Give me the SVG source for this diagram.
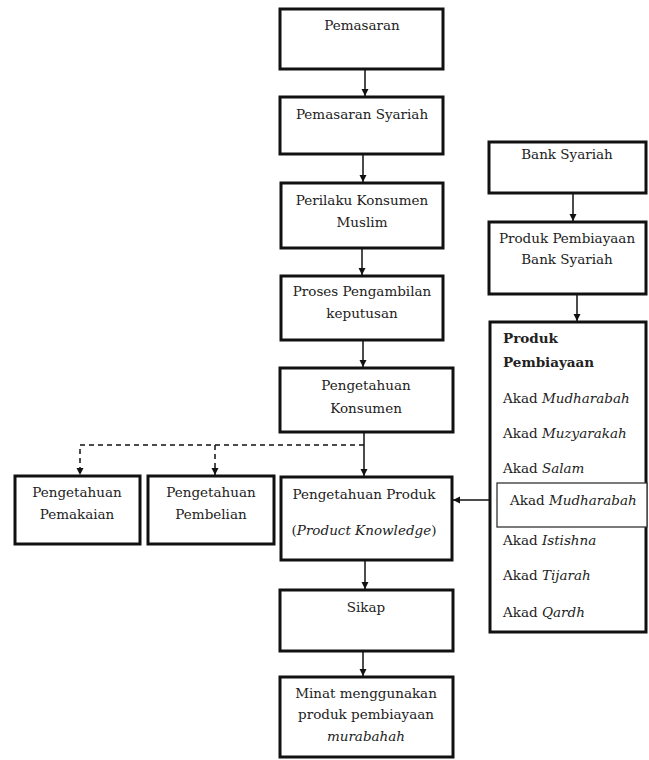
<svg xmlns="http://www.w3.org/2000/svg" width="649" height="760" viewBox="0 0 649 760">
<style>
.box{fill:#fff;stroke:#111;stroke-width:3}
.inner{fill:#fff;stroke:#333;stroke-width:1.3}
.t{font-family:"DejaVu Serif","Liberation Serif",serif;font-size:13.5px;fill:#222;text-anchor:middle}
.l{font-family:"DejaVu Serif","Liberation Serif",serif;font-size:13.5px;fill:#222}
.b{font-weight:bold}
.c{stroke:#111;stroke-width:1.5;fill:none}
.d{stroke:#111;stroke-width:1.5;fill:none;stroke-dasharray:5,4}
</style>
<defs>
<marker id="ah" markerWidth="8" markerHeight="8" refX="7" refY="4" orient="auto" markerUnits="userSpaceOnUse">
<path d="M0,0.5 L7,4 L0,7.5 Z" fill="#111"/>
</marker>
</defs>
<rect width="649" height="760" fill="#fff"/>
<g id="connectors">
<line class="c" x1="365" y1="69" x2="365" y2="96" marker-end="url(#ah)"/>
<line class="c" x1="363" y1="154" x2="363" y2="182" marker-end="url(#ah)"/>
<line class="c" x1="362" y1="248" x2="362" y2="275" marker-end="url(#ah)"/>
<line class="c" x1="363" y1="340" x2="363" y2="367" marker-end="url(#ah)"/>
<line class="c" x1="364" y1="432" x2="364" y2="476" marker-end="url(#ah)"/>
<polyline class="d" points="364,445 80,445 80,475" marker-end="url(#ah)"/>
<line class="d" x1="215" y1="445" x2="215" y2="475" marker-end="url(#ah)"/>
<line class="c" x1="365" y1="560" x2="365" y2="589" marker-end="url(#ah)"/>
<line class="c" x1="363" y1="651" x2="363" y2="676" marker-end="url(#ah)"/>
<line class="c" x1="573" y1="193" x2="573" y2="221" marker-end="url(#ah)"/>
<line class="c" x1="577" y1="294" x2="577" y2="321" marker-end="url(#ah)"/>
<line class="c" x1="490" y1="500" x2="453" y2="500" marker-end="url(#ah)"/>
</g>
<g id="n1"><rect class="box" x="280" y="9" width="163" height="60"/><text class="t" x="362" y="30">Pemasaran</text></g>
<g id="n2"><rect class="box" x="280" y="97" width="163" height="57"/><text class="t" x="362" y="119">Pemasaran Syariah</text></g>
<g id="n3"><rect class="box" x="281" y="183" width="162" height="65"/><text class="t" x="362" y="205">Perilaku Konsumen</text><text class="t" x="362" y="227">Muslim</text></g>
<g id="n4"><rect class="box" x="281" y="276" width="162" height="64"/><text class="t" x="362" y="296">Proses Pengambilan</text><text class="t" x="362" y="318">keputusan</text></g>
<g id="n5"><rect class="box" x="280" y="368" width="173" height="64"/><text class="t" x="366" y="390">Pengetahuan</text><text class="t" x="366" y="413">Konsumen</text></g>
<g id="n6"><rect class="box" x="15" y="476" width="125" height="68"/><text class="t" x="77" y="497">Pengetahuan</text><text class="t" x="77" y="519">Pemakaian</text></g>
<g id="n7"><rect class="box" x="148" y="476" width="126" height="68"/><text class="t" x="211" y="497">Pengetahuan</text><text class="t" x="211" y="519">Pembelian</text></g>
<g id="n8"><rect class="box" x="281" y="477" width="171" height="83"/><text class="t" x="364" y="499">Pengetahuan Produk</text><text class="t" x="364" y="535">(<tspan font-style="italic">Product Knowledge</tspan>)</text></g>
<g id="n9"><rect class="box" x="280" y="590" width="173" height="61"/><text class="t" x="366" y="612">Sikap</text></g>
<g id="n10"><rect class="box" x="280" y="677" width="173" height="80"/><text class="t" x="366" y="698">Minat menggunakan</text><text class="t" x="366" y="719">produk pembiayaan</text><text class="t" x="366" y="741" font-style="italic">murabahah</text></g>
<g id="n11"><rect class="box" x="489" y="142" width="157" height="51"/><text class="t" x="567" y="159">Bank Syariah</text></g>
<g id="n12"><rect class="box" x="489" y="222" width="157" height="72"/><text class="t" x="567" y="243">Produk Pembiayaan</text><text class="t" x="567" y="264">Bank Syariah</text></g>
<g id="n13"><rect class="box" x="490" y="322" width="156" height="310"/>
<text class="l b" x="503" y="343">Produk</text>
<text class="l b" x="503" y="367">Pembiayaan</text>
<text class="l" x="503" y="403">Akad <tspan font-style="italic">Mudharabah</tspan></text>
<text class="l" x="503" y="438">Akad <tspan font-style="italic">Muzyarakah</tspan></text>
<text class="l" x="503" y="473">Akad <tspan font-style="italic">Salam</tspan></text>
<rect class="inner" x="497" y="483" width="150" height="44"/>
<text class="l" x="510" y="505">Akad <tspan font-style="italic">Mudharabah</tspan></text>
<text class="l" x="503" y="545">Akad <tspan font-style="italic">Istishna</tspan></text>
<text class="l" x="503" y="580">Akad <tspan font-style="italic">Tijarah</tspan></text>
<text class="l" x="503" y="617">Akad <tspan font-style="italic">Qardh</tspan></text>
</g>
</svg>
